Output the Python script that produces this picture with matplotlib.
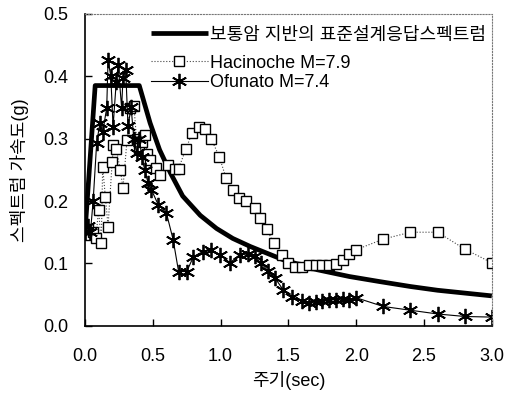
import numpy as np
import matplotlib.pyplot as plt

plt.rcParams['font.family'] = ['Liberation Sans', 'Noto Sans CJK KR', 'DejaVu Sans']

# standard design response spectrum (rock site)
std_T = [0.0, 0.075, 0.40, 0.48, 0.55, 0.63, 0.72, 0.85, 0.97, 1.09, 1.22, 1.46, 1.71, 1.95, 2.17, 2.40, 2.60, 3.00]
std_v = [0.15, 0.385, 0.385, 0.325, 0.282, 0.245, 0.208, 0.177, 0.156, 0.140, 0.127, 0.106, 0.090, 0.079, 0.071, 0.063, 0.057, 0.048]

# Hacinoche M=7.9
hac_T = [0.00, 0.02, 0.04, 0.06, 0.08, 0.10, 0.12, 0.13, 0.15, 0.17, 0.20, 0.21, 0.23, 0.26, 0.28, 0.31,
         0.33, 0.36, 0.38, 0.40, 0.42, 0.44, 0.46, 0.48, 0.52, 0.55, 0.61, 0.66, 0.69, 0.745, 0.79, 0.84,
         0.885, 0.93, 0.99, 1.04, 1.09, 1.135, 1.19, 1.25, 1.29, 1.34, 1.39, 1.45, 1.50, 1.55, 1.60,
         1.65, 1.70, 1.75, 1.80, 1.85, 1.90, 1.95, 2.00, 2.20, 2.40, 2.60, 2.80, 3.00]
hac_v = [0.150, 0.155, 0.145, 0.150, 0.140, 0.186, 0.132, 0.255, 0.207, 0.159, 0.262, 0.290, 0.284, 0.250, 0.221, 0.298,
         0.349, 0.353, 0.300, 0.285, 0.295, 0.306, 0.275, 0.266, 0.253, 0.242, 0.258, 0.252, 0.252, 0.284, 0.309, 0.319,
         0.315, 0.300, 0.271, 0.237, 0.218, 0.205, 0.200, 0.189, 0.173, 0.155, 0.133, 0.114, 0.100, 0.095, 0.094,
         0.097, 0.098, 0.098, 0.098, 0.099, 0.106, 0.115, 0.122, 0.139, 0.150, 0.150, 0.123, 0.101]

# Ofunato M=7.4
ofu_T = [0.00, 0.02, 0.04, 0.06, 0.086, 0.11, 0.13, 0.16, 0.17, 0.19, 0.207, 0.23, 0.245, 0.27, 0.28, 0.30,
         0.317, 0.34, 0.36, 0.38, 0.40, 0.42, 0.44, 0.465, 0.49, 0.54, 0.60, 0.65, 0.69, 0.75, 0.80, 0.87,
         0.93, 0.995, 1.07, 1.14, 1.20, 1.25, 1.30, 1.35, 1.40, 1.46, 1.53, 1.60, 1.65, 1.70, 1.75, 1.80,
         1.85, 1.90, 1.95, 2.00, 2.20, 2.40, 2.60, 2.80, 3.00]
ofu_v = [0.150, 0.160, 0.150, 0.200, 0.293, 0.325, 0.310, 0.349, 0.426, 0.400, 0.319, 0.390, 0.418, 0.349, 0.397, 0.410,
         0.320, 0.350, 0.300, 0.277, 0.300, 0.270, 0.250, 0.229, 0.218, 0.194, 0.181, 0.138, 0.087, 0.087, 0.111, 0.119,
         0.122, 0.114, 0.101, 0.114, 0.115, 0.112, 0.100, 0.088, 0.077, 0.058, 0.047, 0.039, 0.037, 0.038, 0.040, 0.041,
         0.042, 0.043, 0.041, 0.045, 0.031, 0.025, 0.019, 0.015, 0.014]

fig = plt.figure(figsize=(5.06, 3.94), dpi=100)
ax = fig.add_axes([0.168, 0.173, 0.804, 0.792])

l1, = ax.plot(std_T, std_v, color='black', lw=3.4, solid_capstyle='butt')
l2, = ax.plot(hac_T, hac_v, color='#444444', lw=0.8, ls=':', marker='s', ms=7.5,
              mfc='white', mec='black', mew=1.0)
l3, = ax.plot(ofu_T, ofu_v, color='black', lw=0.8, marker=(6, 2, 0), ms=11, mew=1.3)

ax.set_xlim(0, 3.0)
ax.set_ylim(0, 0.5)
ax.set_xticks(np.arange(0, 3.01, 0.5))
ax.set_yticks(np.arange(0, 0.51, 0.1))
ax.xaxis.set_major_formatter(plt.FormatStrFormatter('%.1f'))
ax.yaxis.set_major_formatter(plt.FormatStrFormatter('%.1f'))
ax.tick_params(direction='in', length=5, width=1, labelsize=13)
ax.tick_params(axis='x', pad=16)
ax.tick_params(axis='y', pad=12)
for s in ['top', 'right']:
    ax.spines[s].set_color('#777777')
    ax.spines[s].set_linewidth(0.8)
    ax.spines[s].set_linestyle(':')
for s in ['left', 'bottom']:
    ax.spines[s].set_linewidth(1.2)

ax.set_xlabel('주기(sec)', fontsize=13, labelpad=4)
ax.set_ylabel('스펙트럼 가속도(g)', fontsize=13, labelpad=10)

leg1 = ax.legend([l1], ['보통암 지반의 표준설계응답스펙트럼'], loc='upper left',
                 bbox_to_anchor=(0.13, 1.0), frameon=False, fontsize=13,
                 handlelength=3.2, handletextpad=0.1, borderaxespad=0.3)
ax.add_artist(leg1)
ax.legend([l2, l3], ['Hacinoche M=7.9', 'Ofunato M=7.4'], loc='upper left',
          bbox_to_anchor=(0.13, 0.91), frameon=False, fontsize=13,
          handlelength=3.2, handletextpad=0.1, labelspacing=0.15, borderaxespad=0.3)

fig.savefig('out.png', dpi=100)
